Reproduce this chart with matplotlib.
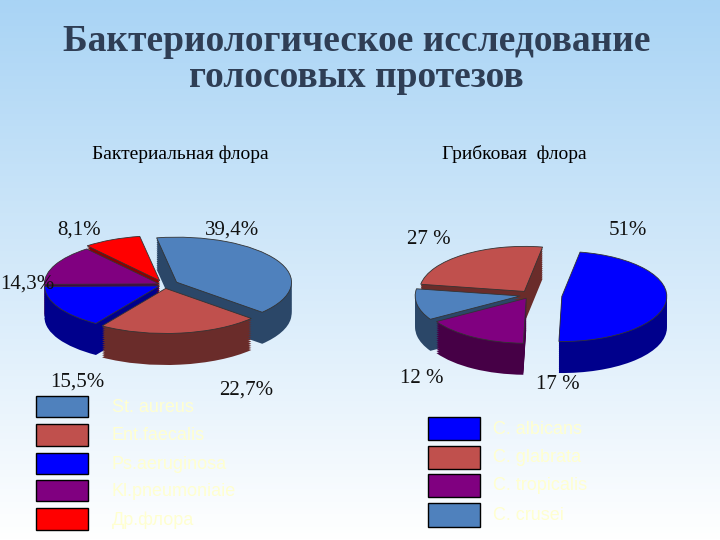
import numpy as np
import matplotlib.pyplot as plt
from matplotlib.colors import to_rgb

bact_labels = ["St. aureus", "Ent.faecalis", "Ps.aeruginosa", "Kl.pneumoniaie", "Др.флора"]
bact_values = [39.4, 22.7, 15.5, 14.3, 8.1]
bact_text = ["39,4%", "22,7%", "15,5%", "14,3%", "8,1%"]
bact_colors = ["#4f81bd", "#c0504d", "#0000ff", "#800080", "#ff0000"]

fung_labels = ["C. albicans", "C. glabrata", "C. tropicalis", "C. crusei"]
fung_pie_values = [51, 17, 12, 27]          # clockwise order from top
fung_pie_colors = ["#0000ff", "#800080", "#4f81bd", "#c0504d"]
fung_text = ["51%", "17 %", "12 %", "27 %"]
fung_colors = ["#0000ff", "#c0504d", "#800080", "#4f81bd"]

fig = plt.figure(figsize=(7.2, 5.4), dpi=100)

# background gradient
bg = fig.add_axes([0, 0, 1, 1])
grad = np.linspace(0, 1, 256).reshape(-1, 1)
top = np.array(to_rgb("#a9d4f5"))
bot = np.array([1, 1, 1])
img = top[None, None, :] * (1 - grad[..., None]) + bot[None, None, :] * grad[..., None]
bg.imshow(img, aspect="auto", extent=[0, 1, 0, 1])
bg.set_xlim(0, 1); bg.set_ylim(0, 1); bg.axis("off")

fig.text(0.495, 0.89, "Бактериологическое исследование\nголосовых протезов", ha="center", va="center",
         fontsize=27, family="Liberation Serif", color="#2f3e55", fontweight="bold", linespacing=1.05)
fig.text(0.25, 0.705, "Бактериальная флора", ha="center", fontsize=14, family="Liberation Serif")
fig.text(0.715, 0.705, "Грибковая  флора", ha="center", fontsize=14, family="Liberation Serif")


def darker(c, f=0.55):
    return tuple(np.array(to_rgb(c)) * f)


def pie3d(ax, values, colors, start, explode, xlim):
    depth = 0.7
    for k in np.linspace(depth, 0, 16):
        cols = colors if k == 0 else [darker(c) for c in colors]
        ax.pie(values, colors=cols, startangle=start, counterclock=False, explode=explode,
               center=(0, -k), radius=1, frame=True,
               wedgeprops=dict(edgecolor=(0.2, 0.2, 0.2) if k == 0 else "none", linewidth=0.6))
    ax.set_xlim(-xlim, xlim); ax.set_ylim(-2.2, 1.6)
    ax.set_aspect("auto")
    ax.axis("off")


ax1 = fig.add_axes([0.005, 0.289, 0.447, 0.317])
pie3d(ax1, bact_values, bact_colors, 100, [0.12, 0.08, 0.05, 0.05, 0.1], 1.4)
ax2 = fig.add_axes([0.518, 0.27, 0.4375, 0.317])
pie3d(ax2, fung_pie_values, fung_pie_colors, 80, [0.3, 0.08, 0.1, 0.1], 1.5)

kw = dict(fontsize=15, family="Liberation Serif", color="#111111")
fig.text(0.08, 0.565, bact_text[4], **kw)
fig.text(0.285, 0.565, bact_text[0], **kw)
fig.text(0.0, 0.465, bact_text[3], **kw)
fig.text(0.07, 0.285, bact_text[2], **kw)
fig.text(0.305, 0.27, bact_text[1], **kw)
fig.text(0.565, 0.548, fung_text[3], **kw)
fig.text(0.845, 0.565, fung_text[0], **kw)
fig.text(0.555, 0.29, fung_text[2], **kw)
fig.text(0.745, 0.28, fung_text[1], **kw)

ys = [0.245, 0.193, 0.14, 0.09, 0.037]
for y, lab, c in zip(ys, bact_labels, bact_colors):
    fig.patches.append(plt.Rectangle((0.05, y - 0.018), 0.072, 0.04, color=c, ec="black", lw=1,
                                     transform=fig.transFigure))
    fig.text(0.155, y, lab, fontsize=13, color="#ffffd0", va="center", family="Liberation Sans")
ys2 = [0.205, 0.152, 0.1, 0.045]
for y, lab, c in zip(ys2, fung_labels, fung_colors):
    fig.patches.append(plt.Rectangle((0.595, y - 0.02), 0.072, 0.043, color=c, ec="black", lw=1,
                                     transform=fig.transFigure))
    fig.text(0.685, y, lab, fontsize=13, color="#ffffd0", va="center", family="Liberation Sans")

fig.savefig("out.png", dpi=100)
